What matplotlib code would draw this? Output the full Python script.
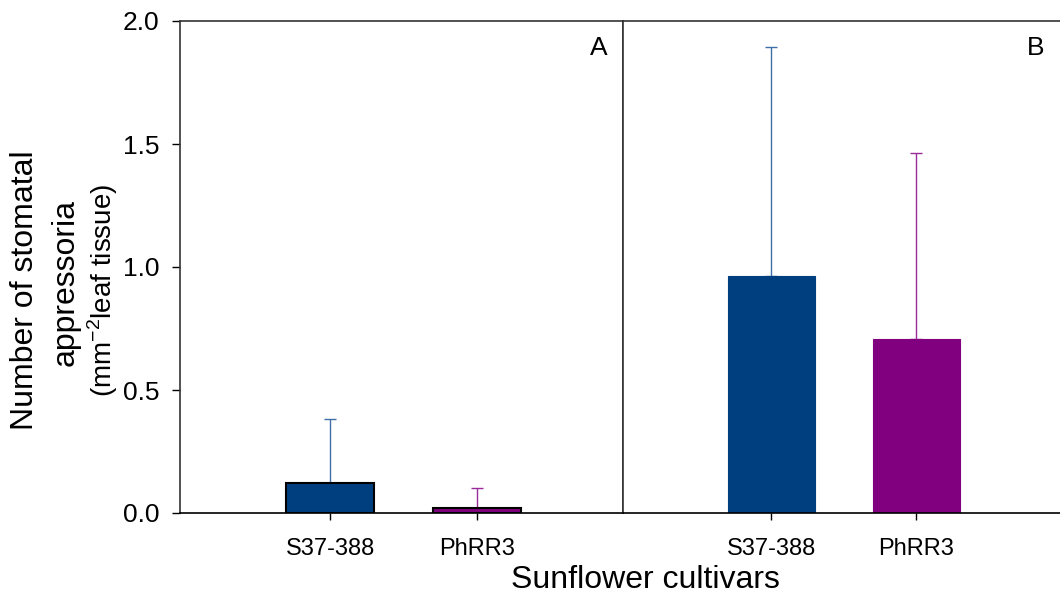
import matplotlib.pyplot as plt
import numpy as np

plt.rcParams['font.family'] = ['Liberation Sans', 'DejaVu Sans']

# Data
cultivars = ["S37-388", "PhRR3"]
means_a = [0.123, 0.020]
errs_a = [0.258, 0.082]
means_b = [0.963, 0.706]
errs_b = [0.933, 0.757]

bar_colors = ['#003f7f', '#800080']
err_colors = ['#3f6fa8', '#9a2a9a']

fig = plt.figure(figsize=(10.6, 5.99), dpi=100)
ax_a = fig.add_axes([180 / 1060, 86 / 599, 443 / 1060, 492 / 599])
ax_b = fig.add_axes([623 / 1060, 86 / 599, 437 / 1060, 492 / 599])

x = np.arange(len(cultivars))


def draw_panel(ax, means, errs, label, edge):
    for i in range(len(means)):
        ax.bar(x[i], means[i], width=0.6, color=bar_colors[i],
               edgecolor=edge if edge else bar_colors[i],
               linewidth=1.5 if edge else 0.8, zorder=2)
        ax.errorbar(x[i], means[i], yerr=[[0], [errs[i]]], fmt='none',
                    ecolor=err_colors[i], elinewidth=1.0, capsize=4,
                    capthick=1.0, zorder=1)
    ax.set_xlim(-1.02, 1.99)
    ax.set_ylim(0, 2.0)
    ax.set_xticks(x)
    ax.set_xticklabels(cultivars, fontsize=17)
    ax.tick_params(axis='x', direction='out', length=5, width=1, pad=13)
    ax.text(0.965, 0.945, label, transform=ax.transAxes, fontsize=19,
            ha='right', va='center')
    for s in ax.spines.values():
        s.set_color('#333333')
        s.set_linewidth(1.2)


draw_panel(ax_a, means_a, errs_a, "A", 'black')
draw_panel(ax_b, means_b, errs_b, "B", None)

ax_a.set_yticks([0.0, 0.5, 1.0, 1.5, 2.0])
ax_a.set_yticklabels(["0.0", "0.5", "1.0", "1.5", "2.0"], fontsize=19)
ax_a.tick_params(axis='y', direction='out', length=6, width=1, pad=9)

ax_b.set_yticks([])
ax_b.spines['right'].set_visible(False)
ax_b.spines['bottom'].set_color('black')
ax_a.spines['bottom'].set_color('black')

fig.text(25 / 1060, 1 - 290 / 599, "Number of stomatal", rotation=90,
         fontsize=23, ha='center', va='center')
fig.text(66 / 1060, 1 - 283 / 599, "appressoria", rotation=90,
         fontsize=23, ha='center', va='center')
fig.text(103 / 1060, 1 - 290 / 599, "(mm$^{\\mathregular{-2}}$leaf tissue)",
         rotation=90, fontsize=20, ha='center', va='center')

fig.text(645 / 1060, 1 - 580 / 599, "Sunflower cultivars", fontsize=23,
         ha='center', va='center')

fig.savefig("out.png", dpi=100)
